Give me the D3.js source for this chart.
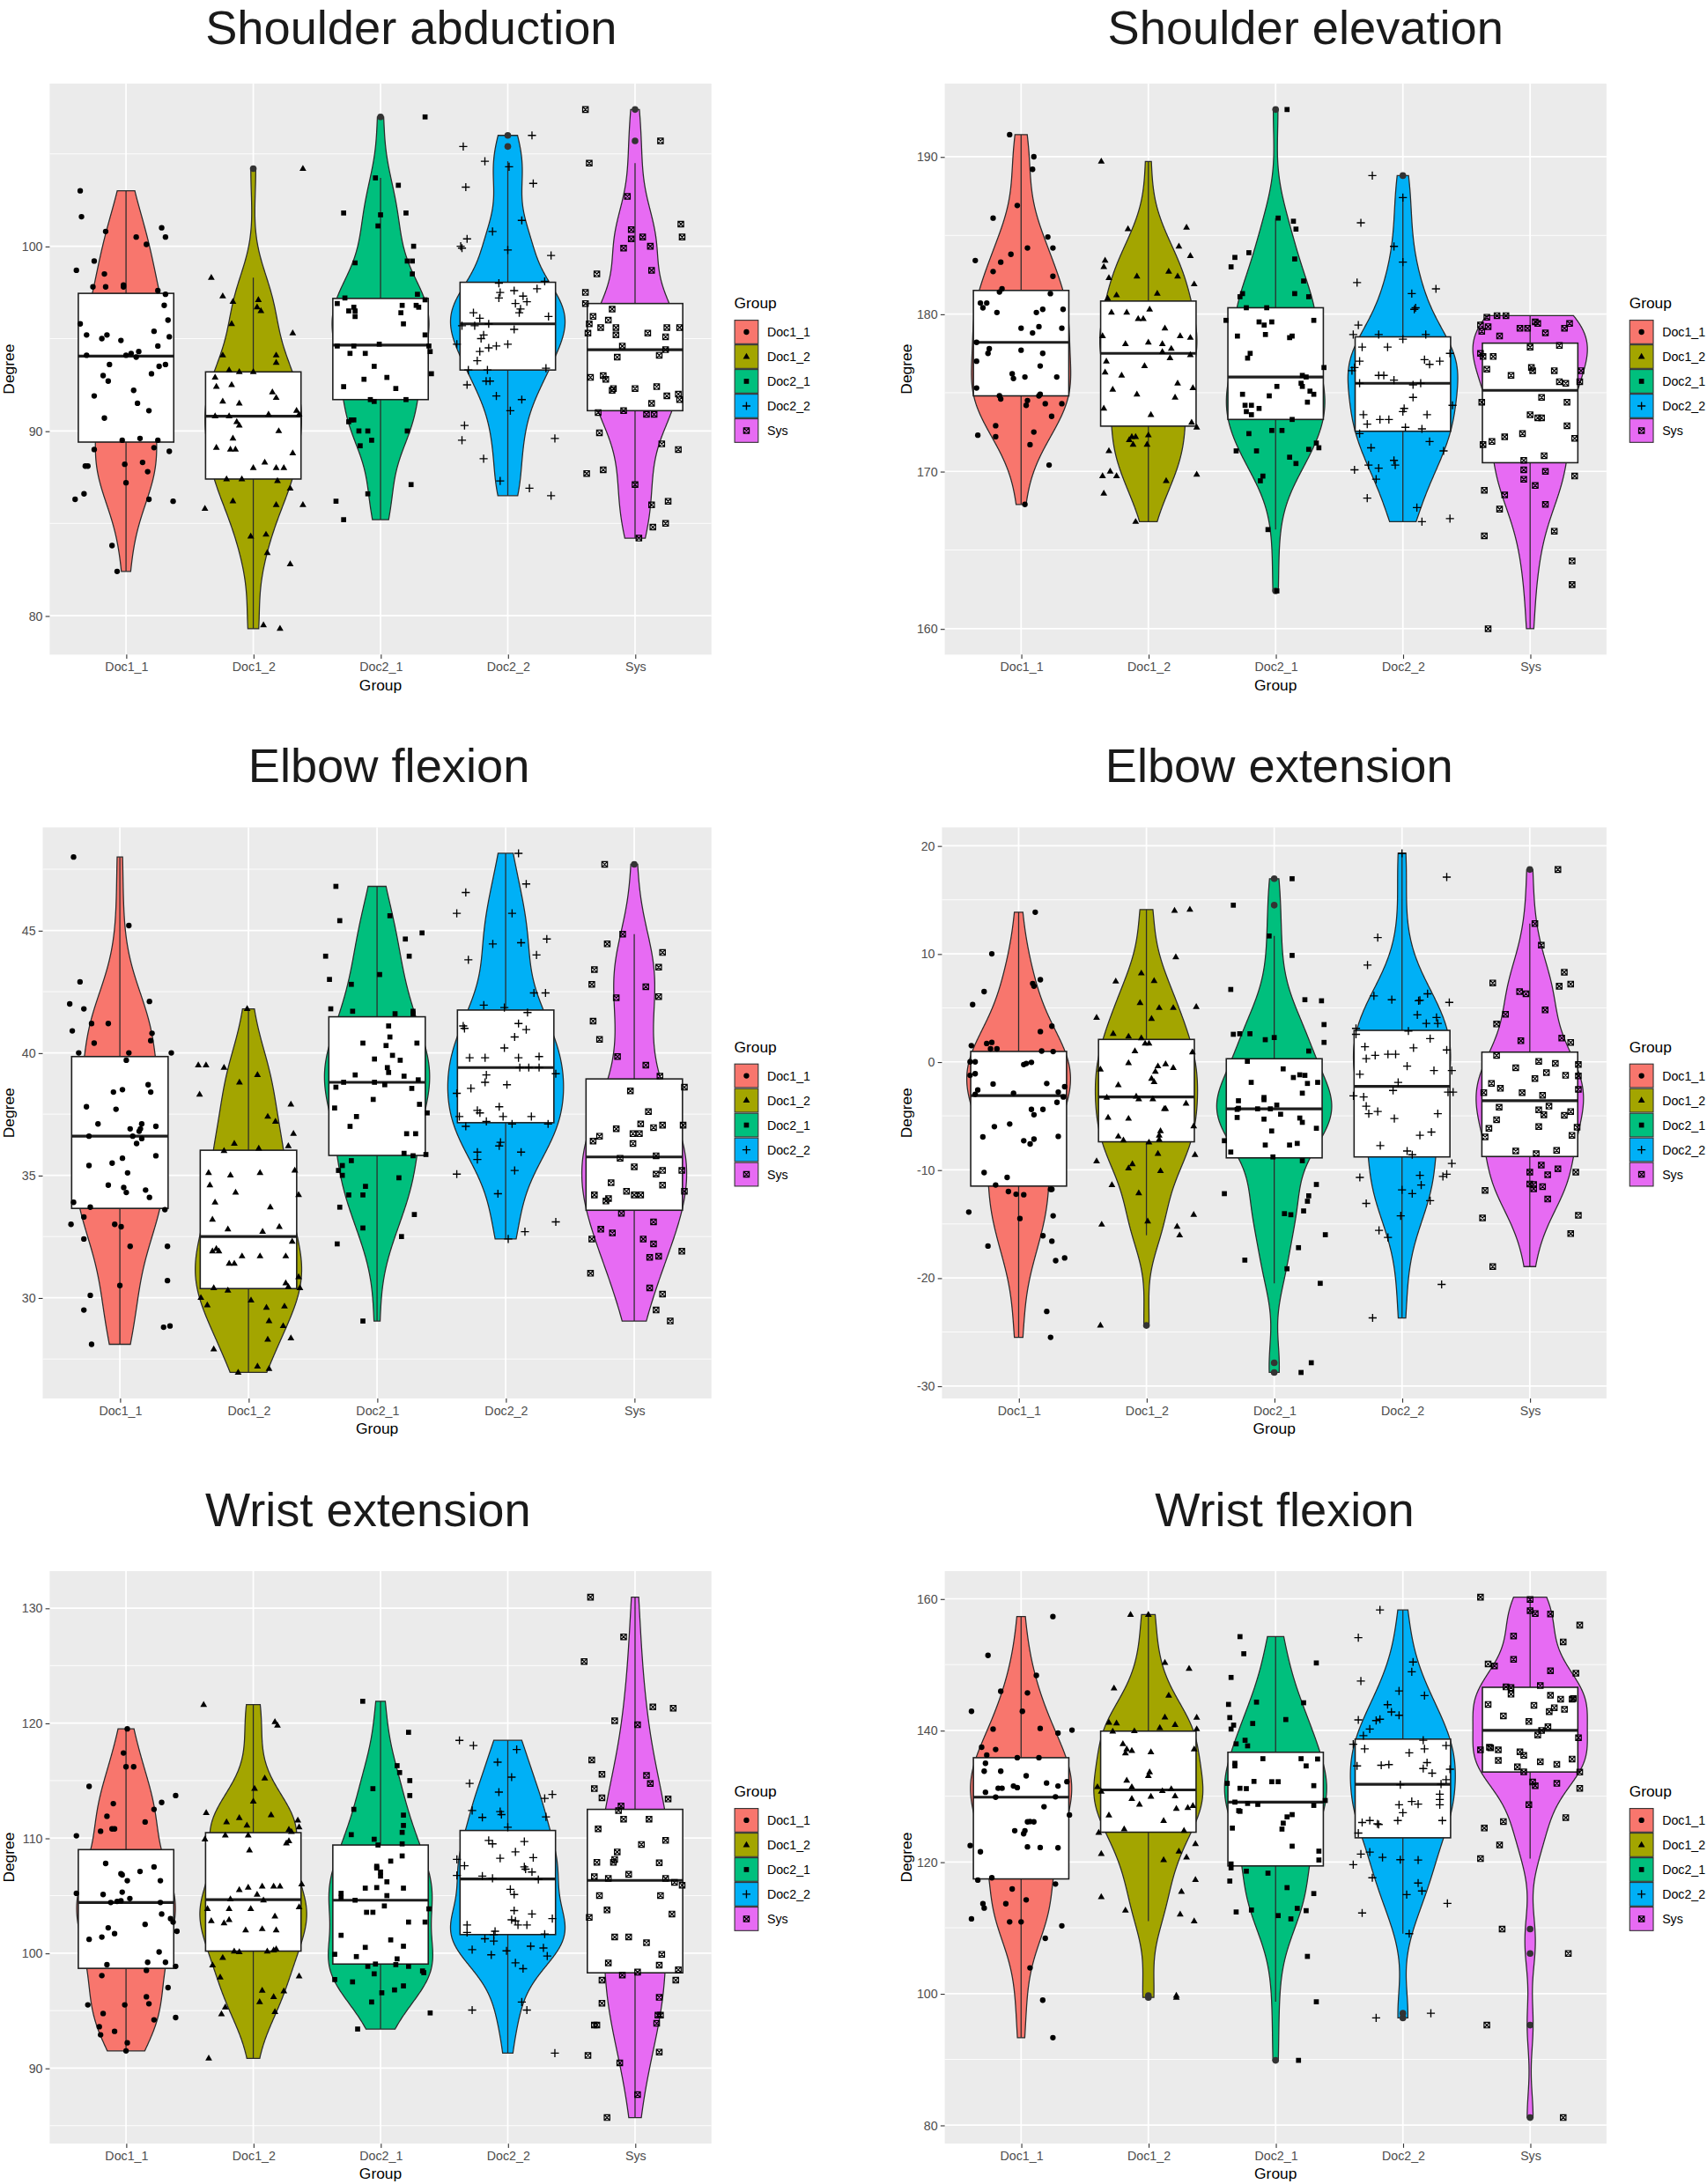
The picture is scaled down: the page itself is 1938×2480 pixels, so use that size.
<!DOCTYPE html>
<html>
<head>
<meta charset="utf-8">
<script src="https://cdnjs.cloudflare.com/ajax/libs/d3/7.8.5/d3.min.js"></script>
<style>
  body { margin: 0; background: #fff; }
  text { font-family: "Liberation Sans", Arial, sans-serif; }
</style>
</head>
<body>
<svg id="chart"></svg>
<script>
// categories, colours, titles
const groups = ['Doc1_1', 'Doc1_2', 'Doc2_1', 'Doc2_2', 'Sys'];
const fills = ['#F8766D', '#A3A500', '#00BF7D', '#00B0F6', '#E76BF3'];
const titles = ['Shoulder abduction', 'Shoulder elevation', 'Elbow flexion', 'Elbow extension', 'Wrist extension', 'Wrist flexion'];

// y tick labels per panel
const abdTicks = [80, 90, 100];
const elvTicks = [160, 170, 180, 190];
const flxTicks = [30, 35, 40, 45];
const extTicks = [-30, -20, -10, 0, 10, 20];
const wexTicks = [90, 100, 110, 120, 130];
const wflTicks = [80, 100, 120, 140, 160];

// each point: [jitter offset in category units, degree]
// Shoulder abduction
const abdDoc1_1 = [[-0.36,103.0],[-0.35,101.6],[-0.39,98.7],[-0.25,99.2],[-0.16,100.8],[-0.17,98.5],[-0.26,97.8],[-0.16,97.8],[-0.02,97.8],[-0.02,97.9],[0.08,100.5],[0.16,100.1],[0.28,101.0],[0.31,100.5],[0.25,97.6],[0.31,97.4],[0.30,96.8],[0.33,96.0],[0.34,95.1],[0.25,94.6],[0.22,95.4],[0.31,93.6],[0.26,93.5],[0.20,93.1],[-0.36,95.8],[-0.31,95.2],[-0.31,94.1],[-0.19,95.0],[-0.15,95.2],[-0.04,94.9],[0.00,94.1],[0.04,94.2],[0.08,94.0],[0.10,94.3],[-0.13,93.6],[-0.18,93.0],[-0.14,92.7],[-0.25,91.9],[0.06,92.2],[0.09,91.5],[0.18,91.1],[-0.17,90.7],[-0.03,89.5],[0.11,89.6],[0.25,89.5],[-0.25,89.0],[0.22,89.1],[0.34,88.9],[-0.01,88.2],[0.13,88.3],[0.17,87.8],[-0.32,88.1],[-0.30,88.1],[0.00,87.2],[-0.40,86.3],[-0.33,86.6],[0.18,86.3],[0.37,86.2],[-0.11,83.8],[-0.07,82.4]];
const abdDoc1_2 = [[0.39,104.2],[0.08,79.5],[0.21,79.3],[-0.33,98.3],[-0.24,97.3],[-0.16,97.0],[0.04,97.1],[0.03,96.7],[0.06,96.5],[-0.17,95.8],[0.31,95.3],[-0.24,94.1],[0.18,94.1],[0.18,93.7],[-0.19,93.3],[-0.11,93.2],[0.0,93.2],[-0.30,92.9],[-0.29,92.4],[-0.17,92.5],[0.15,92.1],[0.18,91.8],[-0.24,91.6],[-0.11,91.5],[0.34,91.1],[0.36,90.9],[-0.30,90.8],[-0.19,90.8],[0.12,90.9],[-0.13,90.5],[-0.11,90.3],[0.20,90.0],[-0.16,89.6],[-0.29,89.1],[-0.18,89.0],[-0.14,89.0],[0.31,88.8],[0.09,88.3],[0.0,88.0],[0.18,88.0],[0.24,88.0],[-0.21,87.4],[-0.09,87.4],[0.19,87.3],[-0.38,85.8],[-0.16,86.2],[0.18,86.0],[0.39,86.0],[0.29,86.9],[-0.02,84.3],[0.10,84.4],[0.11,83.4],[0.29,82.8]];
const abdDoc2_1 = [[0.35,107.0],[-0.04,103.7],[0.14,103.3],[-0.29,101.8],[0.20,101.8],[0.0,101.7],[-0.02,101.1],[0.26,100.0],[-0.20,99.1],[0.21,99.2],[0.25,99.2],[0.25,98.5],[0.29,97.4],[0.35,97.1],[-0.28,97.2],[-0.34,96.9],[-0.21,96.7],[-0.20,96.5],[-0.25,96.5],[-0.20,96.2],[0.17,96.8],[0.16,96.4],[0.18,95.8],[0.28,96.8],[0.30,96.7],[0.35,95.2],[-0.01,94.7],[-0.34,94.6],[-0.21,94.6],[0.39,94.3],[0.38,94.6],[-0.24,94.2],[-0.12,94.2],[-0.05,93.5],[0.05,92.9],[-0.29,92.4],[-0.13,92.8],[0.12,92.3],[0.40,93.1],[-0.05,91.6],[-0.08,91.7],[0.20,91.7],[-0.25,90.5],[-0.23,90.6],[-0.21,90.6],[-0.17,90.0],[-0.10,90.0],[0.21,90.0],[-0.07,89.5],[-0.16,89.2],[-0.10,86.6],[0.24,87.1],[-0.35,86.2],[-0.29,85.2]];
const abdDoc2_2 = [[0.19,106.0],[-0.35,105.4],[-0.18,104.6],[0.01,104.3],[-0.33,103.2],[0.20,103.4],[0.11,101.4],[-0.32,100.4],[-0.12,100.8],[-0.37,100.0],[-0.36,99.9],[0.0,99.8],[0.34,99.5],[-0.07,98.0],[0.29,98.1],[0.05,97.6],[0.23,97.7],[-0.06,97.5],[0.12,97.3],[-0.07,97.2],[0.15,97.0],[0.06,96.9],[0.10,96.6],[0.09,96.4],[-0.27,96.4],[-0.22,96.1],[0.32,96.2],[-0.36,95.7],[-0.26,95.7],[-0.15,95.8],[0.05,95.5],[-0.21,95.0],[-0.19,95.2],[-0.40,94.7],[0.0,94.7],[-0.09,94.6],[-0.22,94.3],[-0.15,94.5],[-0.24,93.8],[-0.31,93.3],[-0.16,93.3],[0.30,93.4],[-0.17,92.7],[-0.14,92.7],[-0.32,92.5],[-0.09,91.9],[0.11,91.7],[0.02,91.1],[-0.34,90.3],[-0.36,89.5],[0.37,89.6],[-0.19,88.5],[-0.06,87.3],[0.17,86.9],[0.34,86.5]];
const abdSys = [[-0.39,107.4],[0.20,105.7],[-0.36,104.5],[-0.06,102.7],[0.36,101.2],[0.37,100.5],[-0.03,100.9],[-0.03,100.4],[0.06,100.5],[-0.09,99.9],[0.12,100.0],[0.13,98.7],[-0.30,98.5],[-0.39,97.5],[-0.39,96.9],[-0.18,96.6],[-0.33,96.2],[-0.21,96.0],[-0.36,95.8],[-0.27,95.6],[-0.15,95.6],[0.25,95.6],[0.35,95.6],[-0.37,95.3],[-0.15,95.2],[0.10,95.3],[0.24,95.1],[-0.10,94.6],[0.24,94.4],[0.19,94.1],[-0.14,94.0],[-0.35,92.9],[-0.25,93.0],[-0.23,92.8],[-0.17,92.3],[-0.18,92.2],[0.0,92.3],[0.17,92.4],[0.25,91.9],[0.34,92.0],[0.35,91.7],[0.13,91.5],[-0.29,91.0],[-0.09,91.1],[0.09,90.9],[0.15,90.9],[-0.28,89.9],[0.21,89.3],[0.34,89.0],[-0.38,87.7],[-0.25,87.9],[0.0,87.1],[0.26,86.2],[0.13,86.0],[0.24,85.0],[0.14,84.8],[0.03,84.2]];

// Shoulder elevation
const elvDoc1_1 = [[-0.09,191.4],[0.10,190.0],[0.09,189.2],[-0.03,186.9],[-0.22,186.1],[0.05,184.2],[-0.08,183.8],[-0.16,183.3],[-0.36,183.4],[0.21,184.9],[0.25,184.2],[-0.22,182.7],[0.25,182.4],[-0.15,181.6],[-0.17,181.4],[0.23,181.3],[-0.32,180.7],[-0.27,180.7],[-0.30,180.4],[-0.19,180.1],[0.12,180.1],[0.17,180.3],[0.33,180.3],[0.0,179.1],[0.14,179.2],[0.32,179.1],[0.09,178.8],[-0.35,178.2],[-0.25,177.8],[-0.26,177.5],[0.0,177.7],[0.17,177.5],[-0.35,177.0],[0.15,176.7],[-0.07,176.2],[-0.06,175.9],[0.03,176.0],[0.28,176.0],[-0.35,175.3],[0.15,174.9],[0.14,174.8],[-0.17,174.8],[-0.16,174.6],[0.05,174.5],[0.04,174.2],[0.19,174.3],[0.32,174.3],[0.24,173.5],[-0.20,172.9],[0.10,172.5],[-0.34,172.3],[-0.20,172.2],[0.07,171.7],[0.22,170.4],[0.03,167.9]];
const elvDoc1_2 = [[-0.37,189.7],[-0.16,185.4],[0.30,185.5],[0.24,184.3],[0.33,183.7],[-0.34,183.4],[-0.35,183.0],[-0.31,182.3],[0.16,182.7],[0.23,182.4],[-0.09,182.4],[0.36,181.9],[0.07,181.3],[-0.25,181.2],[-0.32,181.0],[-0.29,180.1],[-0.17,180.1],[0.01,180.3],[-0.08,179.7],[-0.04,179.7],[-0.36,178.6],[0.13,179.1],[0.25,178.6],[0.33,178.5],[0.0,178.2],[-0.18,178.1],[0.11,178.1],[0.18,177.8],[0.11,177.6],[0.33,177.4],[0.17,177.2],[-0.33,177.0],[-0.34,176.3],[-0.21,176.1],[-0.03,176.7],[0.23,175.6],[0.35,175.3],[-0.28,175.2],[-0.09,174.9],[0.21,174.7],[-0.35,174.0],[0.34,173.1],[0.38,172.8],[0.02,173.6],[-0.13,172.2],[-0.10,172.2],[-0.15,172.0],[0.0,172.3],[-0.12,171.7],[-0.01,171.7],[-0.31,171.3],[-0.36,169.7],[-0.30,170.0],[-0.25,169.7],[0.38,169.8],[0.14,169.4],[-0.35,168.6],[-0.10,166.8]];
const elvDoc2_1 = [[0.09,193.0],[0.02,186.1],[0.14,185.9],[0.16,185.4],[-0.21,183.9],[-0.32,183.6],[-0.35,183.0],[0.15,183.5],[0.22,182.1],[0.15,181.3],[0.26,181.1],[-0.26,181.3],[-0.28,181.1],[-0.23,180.4],[-0.07,180.4],[-0.39,179.6],[-0.13,179.5],[-0.09,179.3],[-0.03,179.5],[0.30,179.6],[-0.30,178.6],[-0.08,178.7],[0.13,178.6],[0.11,178.5],[-0.20,177.5],[-0.22,177.2],[0.38,176.6],[0.21,176.1],[0.24,176.0],[0.20,175.6],[0.21,175.4],[0.01,175.4],[-0.26,174.9],[-0.05,174.8],[0.27,175.1],[0.30,174.9],[0.25,174.4],[-0.24,174.2],[-0.19,174.2],[-0.23,173.8],[-0.19,173.6],[-0.13,174.0],[0.13,173.3],[-0.03,172.6],[0.05,172.6],[-0.21,172.4],[0.32,171.8],[0.34,171.5],[-0.31,171.3],[-0.15,171.3],[0.26,171.4],[0.11,170.9],[0.16,170.5],[-0.10,169.7],[-0.12,169.4],[-0.06,166.3],[0.01,162.4]];
const elvDoc2_2 = [[-0.24,188.8],[0.0,187.4],[-0.33,185.8],[-0.07,184.3],[0.0,183.3],[-0.36,182.0],[0.26,181.6],[0.07,181.3],[0.09,180.3],[0.10,180.4],[-0.35,179.3],[-0.39,178.7],[-0.19,178.7],[0.18,178.7],[0.0,178.4],[0.37,177.5],[-0.32,177.9],[-0.12,177.9],[0.17,177.1],[0.29,177.0],[0.21,176.8],[-0.34,177.0],[-0.38,176.6],[-0.19,176.1],[-0.15,176.1],[-0.07,175.8],[0.08,175.5],[0.14,175.6],[-0.40,176.4],[-0.34,175.6],[0.08,174.7],[0.39,174.2],[0.01,174.0],[0.0,173.8],[-0.31,173.6],[0.19,173.6],[-0.18,173.3],[-0.11,173.3],[-0.28,173.0],[0.02,172.8],[0.15,172.7],[-0.34,172.4],[0.21,171.9],[-0.25,171.5],[0.32,171.3],[-0.38,170.1],[-0.27,170.4],[-0.19,170.2],[-0.07,170.7],[-0.06,170.4],[-0.21,169.5],[-0.28,168.3],[0.11,167.7],[0.15,166.8],[0.37,167.0]];
const elvSys = [[-0.33,160.0],[0.33,162.8],[0.33,164.3],[0.19,166.2],[-0.36,165.9],[-0.24,167.6],[0.12,167.9],[-0.20,168.5],[-0.36,168.8],[0.04,169.1],[-0.05,169.5],[0.12,170.0],[-0.05,170.1],[0.35,169.7],[-0.05,170.7],[0.11,171.0],[-0.37,171.7],[-0.30,171.9],[-0.20,172.2],[-0.06,172.4],[0.35,172.1],[0.29,172.9],[0.06,173.4],[0.09,173.4],[0.0,173.6],[-0.38,174.4],[0.29,174.4],[0.09,174.7],[0.28,175.6],[0.39,175.7],[0.23,175.7],[-0.15,176.1],[0.19,176.4],[0.01,176.6],[0.02,176.4],[-0.34,176.5],[-0.37,177.3],[-0.29,177.3],[-0.39,177.5],[0.0,177.9],[0.23,178.0],[-0.24,178.6],[-0.33,179.2],[-0.38,178.9],[-0.39,179.3],[-0.08,179.1],[-0.02,179.1],[0.06,179.4],[0.12,178.8],[0.27,179.1],[0.31,179.4],[-0.34,179.8],[-0.26,179.9],[-0.19,179.9],[0.04,179.5],[0.40,176.4]];

// Elbow flexion
const flxDoc1_1 = [[-0.36,48.0],[0.07,45.2],[-0.31,42.9],[-0.39,42.0],[-0.28,41.8],[0.23,42.1],[-0.22,41.2],[-0.09,41.2],[-0.37,40.9],[0.25,40.8],[0.24,40.5],[-0.20,40.4],[-0.32,40.0],[0.07,40.0],[0.40,40.0],[0.05,39.7],[-0.26,37.8],[-0.03,37.7],[-0.05,38.4],[0.02,38.5],[0.22,38.7],[0.24,38.4],[-0.17,37.1],[0.17,37.1],[0.08,36.9],[0.16,36.9],[0.28,37.0],[0.15,36.8],[-0.24,36.6],[0.10,36.6],[0.17,36.5],[0.13,36.3],[0.28,35.8],[0.02,35.7],[-0.06,35.5],[-0.24,35.4],[0.06,35.1],[-0.09,34.6],[0.03,34.5],[0.05,34.3],[0.20,34.4],[0.23,34.1],[-0.36,33.9],[-0.23,33.7],[0.35,33.6],[-0.28,33.3],[-0.38,33.0],[-0.04,33.0],[0.01,32.9],[-0.28,32.4],[0.08,32.1],[0.37,32.1],[0.37,30.7],[0.0,30.5],[-0.23,30.1],[-0.28,29.5],[0.34,28.8],[0.39,28.85],[-0.22,28.1]];
const flxDoc1_2 = [[-0.01,41.8],[-0.39,39.5],[-0.33,39.5],[-0.19,39.4],[0.07,39.1],[-0.07,38.8],[-0.38,38.3],[0.33,37.9],[0.15,37.4],[0.21,37.2],[0.35,36.7],[-0.11,36.3],[0.31,36.2],[0.08,36.1],[-0.19,36.0],[-0.31,35.1],[-0.14,35.0],[0.09,35.1],[0.36,35.2],[-0.30,34.6],[-0.10,34.3],[0.39,34.2],[-0.26,33.9],[0.17,33.7],[-0.28,33.2],[-0.16,32.8],[0.24,32.9],[0.11,32.7],[0.34,32.3],[-0.28,31.9],[-0.25,32.0],[-0.23,31.9],[-0.05,31.7],[0.09,31.7],[0.29,31.7],[-0.15,31.4],[-0.11,31.4],[0.39,30.85],[0.29,30.6],[0.31,30.45],[-0.27,30.4],[-0.16,30.3],[0.40,30.4],[-0.37,30.0],[0.02,29.9],[-0.32,29.7],[0.14,29.6],[0.28,29.65],[0.16,29.05],[0.27,28.85],[0.15,28.3],[0.33,28.35],[-0.27,27.9],[0.07,27.2],[0.16,27.1],[-0.08,26.95]];
const flxDoc2_1 = [[-0.32,46.8],[-0.29,45.4],[0.10,45.6],[0.35,44.9],[0.22,44.65],[-0.40,43.95],[0.25,43.95],[-0.37,43.0],[0.02,43.2],[-0.20,42.8],[-0.36,41.8],[-0.19,41.7],[0.14,41.6],[0.28,41.7],[0.28,41.6],[0.09,41.1],[0.10,40.65],[-0.11,40.4],[0.31,40.4],[0.07,40.3],[-0.02,39.75],[0.12,39.9],[0.18,39.7],[0.08,39.4],[0.09,39.2],[-0.17,39.1],[0.21,39.05],[0.32,38.9],[-0.26,38.8],[-0.02,38.8],[0.06,38.7],[-0.32,38.6],[0.27,38.55],[0.33,37.9],[-0.03,38.1],[-0.33,37.75],[0.39,37.55],[-0.16,37.4],[-0.21,37.0],[0.23,36.7],[0.30,36.7],[0.21,35.9],[0.28,35.8],[0.38,35.85],[-0.20,35.6],[-0.27,35.4],[-0.30,35.2],[-0.27,35.0],[-0.09,34.55],[0.17,34.9],[-0.22,34.2],[-0.11,34.2],[-0.29,33.7],[0.29,33.4],[-0.11,32.85],[0.19,32.5],[-0.31,32.2],[-0.11,29.05]];
const flxDoc2_2 = [[0.10,48.15],[0.16,46.9],[-0.31,46.55],[-0.38,45.7],[0.05,45.7],[0.32,44.65],[-0.10,44.45],[0.12,44.5],[0.24,44.0],[-0.29,43.8],[0.22,42.45],[0.31,42.45],[-0.17,41.95],[-0.01,41.85],[0.17,41.65],[0.10,41.2],[-0.33,41.1],[-0.32,41.0],[0.16,40.95],[0.07,40.65],[-0.01,40.2],[-0.28,39.8],[-0.16,39.8],[0.10,39.8],[0.26,39.85],[0.11,39.4],[0.18,39.4],[0.26,39.4],[0.39,39.15],[-0.15,39.1],[-0.16,38.8],[-0.27,38.55],[0.01,38.7],[-0.38,38.35],[-0.05,37.8],[-0.22,37.65],[-0.20,37.55],[-0.36,37.4],[-0.02,37.4],[0.20,37.4],[-0.15,37.2],[-0.31,37.0],[0.05,37.1],[0.33,37.1],[-0.22,35.95],[-0.22,35.65],[0.12,35.95],[-0.05,36.2],[-0.04,36.35],[-0.38,35.05],[0.07,35.2],[-0.06,34.25],[0.39,33.1],[0.15,32.7],[0.02,32.4]];
const flxSys = [[-0.23,47.7],[-0.09,44.85],[-0.21,44.45],[0.22,44.1],[0.19,43.5],[-0.31,43.4],[-0.33,42.8],[0.09,42.7],[0.19,42.3],[-0.14,42.25],[-0.32,41.3],[-0.27,40.55],[-0.13,39.85],[0.09,39.5],[0.20,39.05],[0.39,38.6],[-0.03,38.45],[0.11,37.6],[0.05,37.1],[-0.14,36.9],[0.15,36.95],[0.22,37.05],[0.38,37.05],[-0.27,36.6],[-0.01,36.7],[0.04,36.7],[-0.32,36.4],[-0.01,36.3],[-0.11,35.7],[0.17,35.8],[0.0,35.35],[0.22,35.2],[0.17,35.05],[0.37,35.2],[-0.18,34.7],[0.22,34.6],[-0.06,34.35],[-0.31,34.2],[0.0,34.2],[0.05,34.2],[0.39,34.35],[-0.20,34.05],[-0.22,33.95],[-0.10,33.45],[0.15,33.1],[-0.26,32.8],[-0.17,32.65],[-0.33,32.4],[0.07,32.4],[0.15,32.2],[0.12,31.65],[0.19,31.7],[0.37,31.9],[-0.34,31.0],[0.12,30.4],[0.22,30.15],[0.17,29.5],[0.28,29.05]];

// Elbow extension
const extDoc1_1 = [[0.13,13.85],[-0.21,10.0],[-0.27,6.5],[-0.36,5.3],[0.17,7.6],[0.11,7.25],[0.12,7.0],[0.26,3.3],[0.17,2.8],[-0.37,1.5],[-0.25,1.7],[-0.21,1.8],[-0.22,1.2],[-0.17,1.2],[0.18,1.0],[0.27,0.95],[-0.38,0.0],[-0.34,0.0],[0.04,-0.25],[0.06,-0.15],[0.10,-0.05],[-0.38,-1.25],[-0.34,-1.1],[-0.20,-2.05],[-0.32,-2.6],[0.22,-2.0],[0.36,-2.3],[0.31,-2.8],[-0.34,-3.0],[-0.04,-2.9],[0.35,-3.25],[0.30,-3.75],[0.10,-4.4],[0.19,-4.4],[0.12,-4.9],[-0.07,-5.75],[-0.19,-6.0],[-0.28,-6.95],[0.31,-6.9],[0.12,-7.15],[0.04,-7.3],[0.09,-7.6],[-0.27,-10.25],[-0.09,-10.7],[-0.18,-11.4],[-0.08,-12.0],[-0.02,-12.25],[0.04,-12.3],[0.25,-11.8],[0.26,-11.8],[-0.39,-13.9],[0.01,-14.5],[0.27,-14.25],[0.19,-16.1],[-0.24,-17.05],[0.26,-16.6],[0.29,-18.4],[0.36,-18.15],[0.22,-23.1],[0.25,-25.5]];
const extDoc1_2 = [[-0.36,-24.4],[0.22,14.0],[0.34,14.1],[0.23,9.7],[-0.04,8.2],[-0.24,7.45],[0.06,7.5],[-0.05,5.45],[0.10,5.0],[0.21,5.0],[0.39,5.1],[-0.39,4.1],[0.04,4.0],[-0.26,2.6],[-0.14,2.35],[-0.04,2.2],[-0.01,1.7],[0.02,1.7],[-0.09,1.0],[0.36,0.9],[-0.14,-0.1],[0.15,-0.2],[-0.36,-0.7],[0.09,-0.4],[0.21,-0.55],[0.07,-0.9],[0.04,-1.55],[0.06,-1.85],[-0.22,-2.15],[-0.31,-3.3],[-0.08,-3.2],[-0.06,-3.45],[0.05,-3.45],[0.14,-4.35],[0.15,-4.35],[0.31,-3.85],[-0.30,-5.15],[-0.14,-5.25],[0.37,-5.95],[0.11,-6.4],[0.10,-6.8],[0.10,-7.2],[-0.22,-6.9],[-0.18,-7.25],[0.02,-7.45],[0.09,-8.5],[0.38,-8.6],[-0.39,-9.2],[-0.11,-9.45],[-0.14,-9.85],[0.11,-10.1],[-0.27,-11.4],[-0.06,-12.15],[0.01,-14.75],[0.37,-14.15],[-0.35,-15.05],[0.24,-15.25],[0.26,-16.05]];
const extDoc2_1 = [[0.14,16.95],[0.29,-27.85],[0.21,-28.75],[-0.32,14.5],[-0.04,11.65],[0.14,9.85],[-0.34,6.7],[0.24,5.75],[0.37,5.65],[0.39,3.45],[0.39,1.8],[-0.32,2.55],[-0.27,2.6],[-0.19,2.6],[-0.07,2.05],[0.0,2.25],[0.27,1.0],[-0.21,0.05],[0.07,-0.65],[0.24,-1.25],[0.15,-1.45],[0.20,-1.2],[-0.18,-1.9],[0.34,-1.9],[0.26,-2.0],[0.22,-2.9],[-0.08,-3.3],[-0.08,-3.5],[-0.28,-3.6],[0.02,-4.0],[-0.28,-4.3],[-0.29,-4.4],[-0.13,-4.35],[-0.03,-4.35],[0.05,-4.85],[-0.29,-5.15],[-0.08,-5.3],[0.20,-5.2],[0.22,-5.6],[0.33,-6.15],[-0.02,-6.4],[-0.39,-7.3],[-0.07,-7.7],[0.12,-7.7],[0.18,-7.55],[-0.34,-8.35],[-0.01,-8.8],[0.22,-9.15],[0.33,-11.35],[-0.39,-12.2],[0.27,-12.4],[0.26,-12.9],[0.23,-13.8],[0.08,-14.05],[0.13,-14.15],[0.40,-16.0],[0.19,-17.2],[-0.23,-18.35],[0.10,-19.15],[0.36,-20.5]];
const extDoc2_2 = [[0.0,19.3],[0.35,17.1],[-0.19,11.5],[-0.27,8.95],[-0.22,6.1],[-0.08,5.75],[0.13,5.65],[0.14,5.7],[0.37,5.5],[0.20,6.3],[0.12,4.35],[0.19,3.55],[0.27,4.1],[0.28,3.55],[0.05,2.85],[-0.36,3.1],[-0.36,2.55],[0.22,2.15],[-0.29,1.4],[0.09,1.3],[0.35,1.1],[-0.21,0.6],[-0.28,0.3],[-0.11,0.7],[-0.05,0.7],[0.04,-0.4],[0.25,-0.8],[0.39,-0.8],[-0.33,-1.15],[-0.03,-1.9],[-0.07,-2.65],[0.36,-2.8],[0.40,-2.8],[-0.38,-3.15],[-0.30,-3.25],[-0.28,-4.1],[-0.19,-4.6],[-0.26,-4.8],[-0.06,-5.25],[0.28,-4.8],[0.23,-6.5],[0.14,-6.8],[-0.17,-7.75],[0.04,-8.25],[0.08,-8.6],[0.39,-9.4],[-0.33,-10.7],[0.35,-10.4],[0.32,-10.6],[0.14,-10.5],[0.15,-11.4],[0.0,-11.85],[0.08,-12.2],[0.22,-12.85],[-0.28,-13.1],[-0.01,-14.25],[-0.18,-15.6],[-0.11,-16.25],[0.31,-20.6],[-0.23,-23.7]];
const extSys = [[0.22,17.8],[0.04,12.8],[0.09,10.8],[0.27,8.3],[-0.29,7.3],[0.23,7.0],[0.32,7.2],[-0.08,6.5],[-0.03,6.3],[0.12,4.8],[-0.19,4.4],[-0.26,3.5],[-0.07,1.95],[0.25,2.2],[0.32,1.8],[-0.26,0.6],[0.07,0.05],[0.20,-0.15],[0.38,-0.25],[-0.11,-0.55],[0.13,-1.0],[0.04,-1.55],[0.28,-1.25],[0.38,-1.3],[-0.30,-2.0],[-0.23,-2.45],[-0.36,-2.85],[-0.06,-2.85],[0.10,-3.1],[0.38,-2.55],[-0.24,-4.2],[0.15,-4.1],[0.07,-4.45],[0.11,-4.9],[0.32,-4.6],[0.27,-4.95],[-0.26,-5.35],[0.07,-6.0],[0.37,-6.05],[-0.32,-6.15],[-0.35,-6.95],[0.33,-6.8],[-0.11,-8.25],[0.21,-8.2],[0.05,-8.5],[0.09,-9.55],[0.22,-9.9],[0.36,-10.2],[0.0,-10.2],[0.14,-10.45],[0.0,-11.3],[0.03,-11.35],[0.03,-11.75],[0.10,-11.55],[-0.35,-11.9],[0.14,-12.7],[-0.37,-14.45],[0.38,-14.2],[0.32,-15.9],[-0.29,-18.95]];

// Wrist extension
const wexDoc1_1 = [[0.01,119.5],[-0.02,117.4],[0.0,116.2],[0.06,116.2],[-0.29,114.5],[0.39,113.7],[0.28,113.1],[-0.10,113.0],[0.22,112.5],[-0.15,111.9],[0.15,111.4],[-0.20,110.6],[-0.11,110.8],[-0.09,110.8],[-0.39,110.2],[-0.16,107.8],[0.22,107.5],[0.11,107.1],[-0.04,106.9],[-0.03,106.8],[0.01,106.3],[0.27,106.3],[-0.03,105.3],[-0.18,105.1],[-0.39,105.2],[0.03,104.75],[-0.12,104.4],[-0.07,104.5],[-0.04,104.55],[0.27,104.4],[0.28,103.4],[0.35,103.0],[0.37,102.7],[0.40,101.9],[0.15,102.5],[-0.14,102.2],[-0.09,101.7],[-0.19,101.4],[-0.29,101.2],[0.26,100.1],[0.17,99.2],[0.31,99.2],[-0.15,99.0],[0.39,98.85],[0.16,98.5],[-0.19,98.05],[0.33,97.0],[0.16,96.2],[0.18,95.6],[-0.01,95.5],[-0.30,95.5],[0.39,94.4],[0.22,94.2],[-0.18,94.75],[-0.21,93.6],[-0.09,93.2],[-0.20,92.9],[0.01,92.2],[0.0,91.5]];
const wexDoc1_2 = [[-0.39,121.6],[0.17,120.1],[0.19,119.8],[0.09,115.2],[0.01,114.3],[0.0,113.2],[0.14,112.0],[-0.37,112.2],[-0.21,111.4],[-0.11,111.75],[-0.05,111.1],[0.35,111.55],[0.28,110.75],[0.30,110.55],[0.36,110.95],[-0.38,109.9],[-0.22,110.25],[-0.04,110.25],[-0.03,108.95],[0.28,109.75],[0.26,109.55],[-0.11,105.5],[-0.04,105.7],[0.07,105.8],[0.16,105.8],[0.21,105.8],[0.38,106.0],[-0.18,104.7],[0.08,104.6],[0.03,105.1],[-0.36,103.85],[-0.19,103.85],[-0.02,103.85],[0.36,104.0],[-0.33,102.8],[-0.23,102.6],[-0.19,102.9],[0.17,103.2],[-0.06,102.0],[0.07,102.1],[0.18,102.0],[-0.15,100.15],[-0.11,100.1],[0.11,100.15],[0.16,100.25],[0.18,100.35],[-0.24,99.6],[-0.32,98.95],[-0.26,97.9],[0.36,98.0],[0.07,96.75],[0.24,96.7],[0.05,95.75],[0.16,96.2],[-0.22,95.3],[-0.25,94.7],[0.17,94.9],[-0.35,90.85]];
const wexDoc2_1 = [[-0.14,121.9],[0.22,119.2],[0.13,116.3],[0.15,115.7],[0.23,115.0],[-0.06,114.3],[0.23,113.7],[-0.21,112.5],[0.18,112.0],[0.18,111.1],[-0.23,110.3],[0.17,110.5],[0.17,109.5],[-0.05,109.9],[-0.02,109.4],[0.17,108.45],[0.08,108.0],[-0.03,107.55],[-0.03,107.4],[0.0,107.05],[0.0,106.7],[0.05,106.2],[-0.03,105.7],[-0.12,105.65],[0.18,105.65],[-0.31,105.2],[-0.20,104.6],[-0.31,104.85],[0.05,105.0],[0.03,104.1],[0.38,103.85],[-0.11,103.55],[-0.06,103.55],[0.22,102.7],[0.35,102.7],[-0.31,101.55],[0.08,101.15],[0.18,100.6],[-0.12,100.5],[-0.36,99.9],[-0.19,99.7],[0.13,99.5],[0.12,99.0],[-0.04,99.05],[-0.10,98.85],[0.22,98.85],[0.33,98.45],[0.34,98.3],[-0.05,98.2],[-0.36,97.7],[-0.22,97.5],[0.18,97.15],[0.11,96.8],[0.01,96.55],[-0.07,95.75],[0.39,94.8],[-0.18,93.4]];
const wexDoc2_2 = [[-0.38,118.5],[-0.27,118.05],[0.07,117.7],[-0.08,116.6],[0.03,115.3],[-0.30,114.75],[-0.07,114.0],[0.29,113.45],[0.35,113.8],[-0.28,112.4],[-0.06,112.3],[-0.05,112.05],[-0.20,111.8],[0.30,111.85],[0.0,110.95],[-0.15,109.8],[-0.12,109.5],[0.13,109.7],[0.06,108.8],[-0.06,108.25],[0.20,108.3],[-0.40,108.15],[-0.34,107.6],[0.13,107.5],[0.14,107.3],[0.19,107.05],[-0.40,106.75],[-0.20,106.7],[-0.12,106.5],[0.24,106.4],[0.02,105.55],[0.05,105.1],[0.05,103.7],[0.19,103.4],[0.35,103.0],[0.03,102.9],[0.06,102.8],[0.08,102.45],[0.15,102.45],[-0.32,102.45],[-0.32,101.8],[-0.10,101.9],[-0.11,101.6],[0.29,101.65],[-0.18,101.25],[-0.11,101.05],[-0.28,100.3],[0.18,100.6],[0.28,100.45],[-0.01,100.2],[-0.13,99.85],[0.31,99.75],[0.06,99.15],[0.12,98.65],[0.11,95.75],[-0.28,95.05],[0.15,95.05],[0.37,91.3]];
const wexSys = [[-0.35,130.95],[-0.09,127.5],[-0.40,125.35],[0.14,121.4],[0.30,121.3],[-0.16,120.2],[0.02,119.85],[-0.34,116.8],[-0.26,115.55],[0.09,115.45],[0.12,114.75],[-0.32,114.3],[-0.26,113.5],[0.26,113.4],[-0.11,112.8],[-0.13,112.4],[-0.09,111.65],[0.11,111.65],[-0.29,110.8],[0.24,109.8],[0.05,109.45],[-0.14,108.8],[-0.30,107.9],[-0.17,107.9],[-0.16,108.15],[0.19,107.85],[-0.32,106.65],[-0.21,106.5],[-0.05,106.85],[0.24,106.5],[0.31,106.15],[0.37,105.9],[-0.28,105.0],[0.20,105.0],[-0.22,103.75],[0.29,103.4],[-0.36,103.1],[-0.16,101.4],[-0.05,101.4],[0.09,100.9],[0.21,99.9],[-0.21,99.15],[0.19,98.95],[0.34,98.55],[0.02,98.35],[-0.10,98.1],[-0.26,97.65],[0.32,97.65],[-0.26,95.65],[0.19,96.15],[0.18,94.6],[0.20,94.6],[0.17,93.9],[-0.32,93.75],[-0.30,93.75],[0.19,91.4],[-0.37,91.1],[-0.12,90.45],[0.02,87.7],[-0.22,85.7]];

// Wrist flexion
const wflDoc1_1 = [[0.25,157.3],[-0.26,151.4],[0.12,148.35],[-0.16,145.95],[0.05,145.7],[0.01,142.9],[-0.39,142.9],[0.15,140.3],[-0.22,140.2],[0.29,139.6],[0.40,140.05],[-0.31,137.45],[-0.20,137.1],[-0.27,136.25],[-0.03,135.85],[0.14,135.85],[-0.28,135.0],[-0.29,133.8],[-0.16,133.8],[0.04,133.1],[0.20,132.0],[0.36,132.2],[0.29,131.55],[-0.06,131.55],[-0.03,131.3],[-0.18,131.2],[-0.15,131.2],[-0.28,130.6],[-0.20,129.85],[0.27,129.9],[0.18,128.4],[0.38,127.15],[0.05,126.1],[0.07,126.15],[0.10,126.1],[-0.05,124.75],[0.03,124.75],[0.02,124.3],[-0.40,122.5],[0.05,122.3],[0.15,122.2],[0.29,122.15],[-0.32,121.55],[-0.34,117.25],[-0.23,117.6],[0.27,116.65],[-0.07,115.9],[0.04,114.25],[-0.30,113.65],[-0.29,113.0],[-0.12,113.65],[-0.39,111.35],[-0.09,110.9],[0.0,110.9],[0.32,110.3],[0.19,108.4],[0.07,103.9],[0.17,99.0],[0.25,93.3]];
const wflDoc1_2 = [[0.22,99.7],[0.22,99.4],[-0.14,157.6],[0.0,157.6],[0.13,150.3],[0.32,149.4],[-0.27,146.4],[0.16,145.3],[0.13,142.0],[-0.31,141.2],[-0.25,141.1],[0.21,140.85],[0.38,141.95],[0.09,140.4],[0.38,140.2],[-0.28,139.85],[-0.11,139.9],[-0.20,137.95],[-0.17,137.15],[-0.18,136.55],[-0.13,136.9],[0.02,136.7],[0.36,137.15],[0.01,133.65],[0.0,133.1],[-0.17,132.4],[-0.13,131.4],[-0.40,131.4],[-0.37,130.7],[0.11,130.8],[0.18,131.1],[0.21,130.0],[0.02,129.95],[-0.13,129.6],[-0.07,128.75],[0.35,128.55],[0.31,128.25],[0.22,128.1],[-0.31,127.1],[0.12,126.25],[-0.19,125.0],[0.28,124.75],[-0.39,124.45],[0.37,122.75],[0.24,121.6],[-0.37,121.25],[0.30,120.7],[0.12,120.3],[0.37,117.3],[0.26,115.5],[-0.37,114.7],[-0.18,112.65],[0.25,112.05],[0.36,111.0]];
const wflDoc2_1 = [[0.18,89.85],[-0.28,154.25],[-0.25,151.65],[0.32,150.25],[-0.35,148.05],[-0.37,143.95],[-0.15,144.3],[0.22,144.2],[-0.36,141.95],[0.08,141.65],[-0.18,141.05],[-0.33,140.8],[-0.35,140.2],[-0.24,138.5],[-0.31,137.95],[-0.22,137.65],[-0.10,135.7],[0.20,135.7],[0.33,135.65],[-0.32,135.0],[0.24,134.6],[-0.32,134.6],[-0.17,132.25],[-0.03,132.2],[0.02,132.2],[-0.38,131.95],[-0.23,131.15],[-0.28,131.2],[0.30,131.6],[0.39,129.35],[-0.32,129.1],[-0.22,128.9],[-0.14,128.75],[0.30,128.6],[-0.29,127.8],[-0.28,127.7],[0.13,127.2],[0.09,126.85],[0.06,125.9],[0.05,125.0],[-0.34,125.15],[0.13,122.4],[0.34,121.65],[0.34,120.3],[-0.35,119.7],[-0.35,119.1],[-0.23,118.6],[-0.06,118.3],[-0.36,117.1],[0.09,116.1],[0.30,115.2],[-0.19,112.7],[-0.31,112.4],[0.24,112.6],[0.17,112.95],[0.02,111.85],[0.12,111.35],[0.25,105.65],[0.32,98.75]];
const wflDoc2_2 = [[-0.18,158.3],[-0.35,154.1],[0.08,150.4],[0.07,148.9],[-0.33,147.5],[-0.03,146.0],[0.17,145.3],[-0.12,143.9],[-0.09,142.8],[-0.03,142.3],[-0.35,141.6],[-0.21,141.5],[-0.18,141.7],[-0.26,140.2],[-0.31,139.2],[-0.39,137.9],[-0.30,137.2],[0.16,138.5],[0.17,137.2],[0.34,137.7],[0.05,136.6],[-0.36,134.6],[-0.17,134.7],[-0.11,134.8],[0.19,135.1],[0.16,134.2],[0.23,133.5],[0.37,134.1],[0.34,132.5],[0.30,131.85],[-0.02,131.75],[0.29,130.3],[0.29,129.5],[0.29,128.7],[0.07,129.2],[0.12,128.8],[-0.03,128.7],[0.0,127.5],[-0.04,126.3],[0.31,126.3],[-0.32,126.0],[-0.26,126.3],[-0.20,125.8],[-0.19,125.7],[-0.35,124.4],[-0.33,121.2],[-0.26,121.5],[-0.39,119.6],[-0.16,120.7],[-0.02,120.35],[0.12,120.3],[-0.24,117.6],[0.12,116.8],[0.15,115.6],[0.03,115.05],[0.35,113.7],[-0.32,112.25],[0.05,109.1],[-0.21,96.3],[0.22,97.0]];
const wflSys = [[-0.22,109.8],[0.30,106.1],[-0.34,95.2],[0.26,81.15],[-0.39,160.25],[0.0,159.9],[0.0,158.2],[0.04,157.75],[0.16,157.7],[0.39,156.0],[-0.13,154.35],[0.26,153.45],[-0.13,150.8],[-0.33,150.1],[-0.28,149.8],[0.16,149.05],[0.36,148.7],[0.08,146.8],[-0.19,146.6],[-0.15,146.5],[-0.15,145.5],[0.16,145.35],[0.24,144.75],[0.33,144.75],[0.34,144.85],[-0.33,143.95],[0.03,143.8],[0.19,143.45],[0.27,143.2],[0.15,142.85],[-0.21,142.2],[0.14,140.55],[-0.01,141.35],[0.09,140.0],[0.06,139.3],[0.38,138.9],[-0.39,137.05],[-0.31,137.35],[-0.32,137.45],[-0.25,137.05],[-0.08,136.75],[-0.05,136.2],[0.33,135.65],[-0.25,135.45],[0.08,135.25],[0.21,134.85],[-0.10,134.45],[-0.05,133.7],[0.39,133.65],[0.02,132.15],[0.04,131.6],[0.21,131.95],[0.39,131.2],[-0.01,128.7],[-0.21,126.15],[0.28,126.75],[-0.36,125.15],[-0.24,122.6],[-0.39,120.5]];

const panels = [
  { title: titles[0], ticks: abdTicks, data: [abdDoc1_1, abdDoc1_2, abdDoc2_1, abdDoc2_2, abdSys] },
  { title: titles[1], ticks: elvTicks, data: [elvDoc1_1, elvDoc1_2, elvDoc2_1, elvDoc2_2, elvSys] },
  { title: titles[2], ticks: flxTicks, data: [flxDoc1_1, flxDoc1_2, flxDoc2_1, flxDoc2_2, flxSys] },
  { title: titles[3], ticks: extTicks, data: [extDoc1_1, extDoc1_2, extDoc2_1, extDoc2_2, extSys] },
  { title: titles[4], ticks: wexTicks, data: [wexDoc1_1, wexDoc1_2, wexDoc2_1, wexDoc2_2, wexSys] },
  { title: titles[5], ticks: wflTicks, data: [wflDoc1_1, wflDoc1_2, wflDoc2_1, wflDoc2_2, wflSys] }
];

// panel frames (page drawn in a 1225 x 1568 view, scaled to the window)
const frames = [
  { left: 35.5, right: 510.5, top: 60, bottom: 470, titleX: 295, ylabX: 10 },
  { left: 678, right: 1153, top: 60, bottom: 470, titleX: 937, ylabX: 654 },
  { left: 30.5, right: 510.5, top: 594, bottom: 1004, titleX: 279, ylabX: 10 },
  { left: 676, right: 1153, top: 594, bottom: 1004, titleX: 918, ylabX: 654 },
  { left: 35.5, right: 510.5, top: 1128, bottom: 1539, titleX: 264, ylabX: 10 },
  { left: 678, right: 1153, top: 1128, bottom: 1539, titleX: 922, ylabX: 654 }
];

const svg = d3.select('#chart')
  .attr('width', 1938).attr('height', 2480)
  .attr('viewBox', '0 0 1225 1568');

// jitter / legend glyphs: 16, 17, 15, 3, 7
function shapePath(k, cx, cy) {
  if (k === 0) { const r = 2.0; return `M${cx - r},${cy}a${r},${r} 0 1,0 ${2 * r},0a${r},${r} 0 1,0 ${-2 * r},0Z`; }
  if (k === 1) return `M${cx},${cy - 2.7}L${cx + 2.45},${cy + 1.55}L${cx - 2.45},${cy + 1.55}Z`;
  if (k === 2) { const h = 1.8; return `M${cx - h},${cy - h}h${2 * h}v${2 * h}h${-2 * h}Z`; }
  if (k === 3) { const a = 2.9; return `M${cx - a},${cy}H${cx + a}M${cx},${cy - a}V${cy + a}`; }
  const h = 2.0;
  return `M${cx - h},${cy - h}h${2 * h}v${2 * h}h${-2 * h}ZM${cx - h},${cy - h}l${2 * h},${2 * h}M${cx + h},${cy - h}l${-2 * h},${2 * h}`;
}
function shapeStyle(sel, k) {
  if (k <= 2) sel.attr('fill', '#000').attr('stroke', 'none');
  else sel.attr('fill', 'none').attr('stroke', '#000').attr('stroke-width', k === 3 ? 0.85 : 0.75);
}

function boxStats(vals) {
  const s = vals.slice().sort(d3.ascending);
  const q1 = d3.quantileSorted(s, 0.25), med = d3.quantileSorted(s, 0.5), q3 = d3.quantileSorted(s, 0.75);
  const iqr = q3 - q1;
  const inside = s.filter(v => v >= q1 - 1.5 * iqr && v <= q3 + 1.5 * iqr);
  return { q1, med, q3, lo: d3.min(inside), hi: d3.max(inside),
    out: s.filter(v => v < q1 - 1.5 * iqr || v > q3 + 1.5 * iqr) };
}

// gaussian kde with nrd0 bandwidth, trimmed to data range
function density(vals) {
  const s = vals.slice().sort(d3.ascending);
  const n = s.length;
  const sd = d3.deviation(s);
  const iq = (d3.quantileSorted(s, 0.75) - d3.quantileSorted(s, 0.25)) / 1.34;
  const bw = 0.9 * Math.min(sd, iq) * Math.pow(n, -0.2);
  const lo = s[0], hi = s[n - 1];
  return d3.range(512).map(i => {
    const yv = lo + (hi - lo) * i / 511;
    const d = d3.sum(s, v => Math.exp(-0.5 * ((yv - v) / bw) ** 2)) / (n * bw * Math.sqrt(2 * Math.PI));
    return [yv, d];
  });
}

const titleSize = 34.3;

panels.forEach((p, i) => {
  const F = frames[i];
  const allVals = p.data.flat().map(d => d[1]);
  const ext = d3.extent(allVals);
  const pad = (ext[1] - ext[0]) * 0.05;
  const y = d3.scaleLinear().domain([ext[0] - pad, ext[1] + pad]).range([F.bottom, F.top]);
  const x = d3.scalePoint().domain(groups).range([F.left, F.right]).padding(0.6);
  const step = x.step();
  const g = svg.append('g');

  g.append('rect').attr('x', F.left).attr('y', F.top)
    .attr('width', F.right - F.left).attr('height', F.bottom - F.top).attr('fill', '#EBEBEB');

  const tstep = p.ticks[1] - p.ticks[0];
  const minor = d3.range(p.ticks[0] - tstep / 2, p.ticks[p.ticks.length - 1] + tstep, tstep)
    .filter(v => v > y.domain()[0] && v < y.domain()[1]);
  g.selectAll('.minor').data(minor).join('line').attr('class', 'minor')
    .attr('x1', F.left).attr('x2', F.right).attr('y1', d => y(d)).attr('y2', d => y(d))
    .attr('stroke', '#fff').attr('stroke-width', 0.55);
  g.selectAll('.majory').data(p.ticks).join('line').attr('class', 'majory')
    .attr('x1', F.left).attr('x2', F.right).attr('y1', d => y(d)).attr('y2', d => y(d))
    .attr('stroke', '#fff').attr('stroke-width', 1.1);
  g.selectAll('.majorx').data(groups).join('line').attr('class', 'majorx')
    .attr('x1', d => x(d)).attr('x2', d => x(d)).attr('y1', F.top).attr('y2', F.bottom)
    .attr('stroke', '#fff').attr('stroke-width', 1.1);

  // violins (area scaling across the panel)
  const dens = p.data.map(arr => density(arr.map(d => d[1])));
  const maxD = d3.max(dens, dd => d3.max(dd, d => d[1]));
  dens.forEach((dd, k) => {
    const cx = x(groups[k]);
    const area = d3.area()
      .y(d => y(d[0]))
      .x0(d => cx - d[1] / maxD * 0.45 * step)
      .x1(d => cx + d[1] / maxD * 0.45 * step);
    g.append('path').attr('d', area(dd)).attr('fill', fills[k])
      .attr('stroke', '#2b2b2b').attr('stroke-width', 0.8);
  });

  // boxplots
  p.data.forEach((arr, k) => {
    const b = boxStats(arr.map(d => d[1]));
    const cx = x(groups[k]);
    const hw = 0.375 * step;
    g.append('line').attr('x1', cx).attr('x2', cx).attr('y1', y(b.hi)).attr('y2', y(b.q3))
      .attr('stroke', '#2b2b2b').attr('stroke-width', 0.8);
    g.append('line').attr('x1', cx).attr('x2', cx).attr('y1', y(b.q1)).attr('y2', y(b.lo))
      .attr('stroke', '#2b2b2b').attr('stroke-width', 0.8);
    g.append('rect').attr('x', cx - hw).attr('y', y(b.q3)).attr('width', 2 * hw)
      .attr('height', y(b.q1) - y(b.q3)).attr('fill', '#fff').attr('stroke', '#1e1e1e').attr('stroke-width', 1.0);
    g.append('line').attr('x1', cx - hw).attr('x2', cx + hw).attr('y1', y(b.med)).attr('y2', y(b.med))
      .attr('stroke', '#1e1e1e').attr('stroke-width', 2.0);
    g.selectAll(null).data(b.out).join('circle')
      .attr('cx', cx).attr('cy', d => y(d)).attr('r', 2.4).attr('fill', '#333');
  });

  // jittered points
  p.data.forEach((arr, k) => {
    const cx = x(groups[k]);
    g.selectAll(null).data(arr).join('path')
      .attr('d', d => shapePath(k, cx + d[0] * step, y(d[1])))
      .call(shapeStyle, k);
  });

  // axes
  const ya = g.append('g').attr('transform', `translate(${F.left},0)`)
    .call(d3.axisLeft(y).tickValues(p.ticks).tickSize(3).tickPadding(2).tickFormat(d => String(d)));
  const xa = g.append('g').attr('transform', `translate(0,${F.bottom})`)
    .call(d3.axisBottom(x).tickSize(3).tickPadding(2.5));
  [ya, xa].forEach(a => {
    a.select('.domain').remove();
    a.selectAll('line').attr('stroke', '#333').attr('stroke-width', 0.7);
    a.selectAll('text').attr('font-size', 9).attr('fill', '#4D4D4D')
      .attr('font-family', '"Liberation Sans", Arial, sans-serif');
  });

  // titles
  const titleY = Math.max(F.top - 32.5, 0.915 * titleSize);
  g.append('text').attr('x', F.titleX).attr('y', titleY).attr('text-anchor', 'middle')
    .attr('font-size', titleSize).attr('fill', '#1a1a1a').text(p.title);
  g.append('text').attr('x', (F.left + F.right) / 2).attr('y', F.bottom + 25.5)
    .attr('text-anchor', 'middle').attr('font-size', 11).attr('fill', '#000').text('Group');
  g.append('text').attr('transform', `translate(${F.ylabX},${(F.top + F.bottom) / 2}) rotate(-90)`)
    .attr('text-anchor', 'middle').attr('font-size', 11).attr('fill', '#000').text('Degree');

  // legend
  const keyTop = (F.top + F.bottom) / 2 - 35.5;
  const lg = g.append('g').attr('transform', `translate(${F.right + 16.3},${keyTop})`);
  lg.append('text').attr('x', 0).attr('y', -8).attr('font-size', 11).attr('fill', '#000').text('Group');
  groups.forEach((gr, k) => {
    const ky = k * 17.7;
    lg.append('rect').attr('x', 0.4).attr('y', ky + 0.4).attr('width', 16.9).attr('height', 16.9)
      .attr('fill', fills[k]).attr('stroke', '#333').attr('stroke-width', 0.7);
    lg.append('path').attr('d', shapePath(k, 8.85, ky + 8.85)).call(shapeStyle, k);
    lg.append('text').attr('x', 23.7).attr('y', ky + 12.2).attr('font-size', 9).attr('fill', '#000').text(gr);
  });
});
</script>
</body>
</html>
